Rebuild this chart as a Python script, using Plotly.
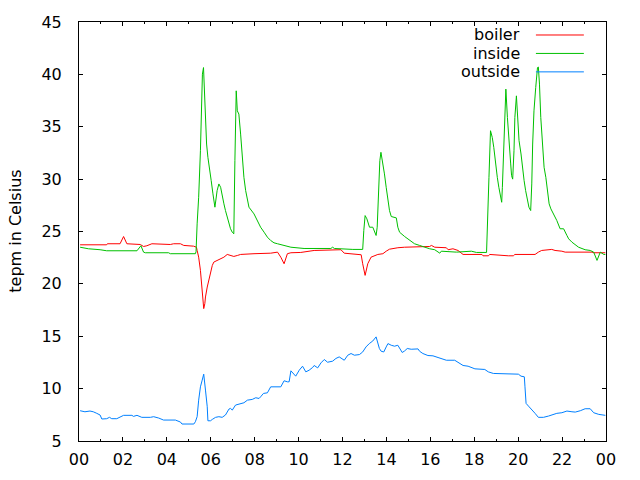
import plotly.graph_objects as go

# ---- data (hours of day, temperature in Celsius) ----
boiler_h = [0.05, 1.26, 1.29, 1.87, 2.03, 2.18, 2.79, 2.94, 3.09, 3.32, 4.16, 4.31, 4.62, 4.77, 5.22,
            5.35, 5.38, 5.45, 5.53, 5.61, 5.65, 5.68, 5.73, 5.76, 5.84, 5.91, 5.99, 6.07, 6.14, 6.29,
            6.45, 6.60, 6.75, 6.90, 7.05, 7.21, 7.36, 7.97, 8.73, 9.04, 9.19, 9.34, 9.49, 9.65, 10.1,
            10.71, 11.02, 11.47, 11.78, 11.93, 12.08, 12.85, 12.92, 13.03, 13.15, 13.3, 13.61, 13.84,
            13.99, 14.14, 14.52, 14.83, 15.97, 16.05, 16.2, 16.73, 16.81, 17.03, 17.26, 17.49, 18.35,
            18.4, 18.65, 18.7, 19.55, 19.78, 19.85, 20.77, 20.92, 21.07, 21.53, 21.68, 21.99, 22.14,
            23.36, 23.44, 23.97]
boiler_t = [23.73, 23.73, 23.83, 23.83, 24.52, 23.83, 23.76, 23.57, 23.64, 23.83, 23.76, 23.83, 23.83,
            23.67, 23.6, 23.5, 23.19, 22.55, 21.29, 19.38, 18.11, 17.64, 18.11, 18.75, 19.7, 20.33,
            21.29, 21.76, 22.08, 22.24, 22.4, 22.55, 22.81, 22.71, 22.62, 22.71, 22.81, 22.88, 22.93,
            23.03, 22.55, 21.92, 22.88, 22.97, 23.0, 23.19, 23.19, 23.26, 23.19, 23.26, 22.93, 22.78,
            21.92, 20.81, 21.92, 22.55, 22.81, 22.88, 23.12, 23.31, 23.45, 23.5, 23.57, 23.67, 23.5,
            23.45, 23.26, 23.35, 23.19, 22.81, 22.81, 22.68, 22.68, 22.81, 22.68, 22.68, 22.81, 22.81,
            23.03, 23.19, 23.29, 23.19, 23.12, 23.03, 23.03, 22.97, 22.97]

inside_h = [0.05, 0.43, 0.96, 1.26, 2.64, 2.71, 2.82, 2.94, 3.02, 4.08, 4.16, 5.30, 5.33, 5.38, 5.45,
            5.53, 5.58, 5.62, 5.67, 5.75, 5.81, 5.87, 5.94, 6.02, 6.10, 6.19, 6.29, 6.37, 6.45, 6.52,
            6.60, 6.67, 6.75, 6.83, 6.90, 6.98, 7.05, 7.10, 7.16, 7.21, 7.28, 7.36, 7.44, 7.51, 7.59,
            7.67, 7.74, 7.97, 8.12, 8.27, 8.43, 8.58, 8.73, 8.88, 9.04, 9.34, 9.65, 10.25, 11.47,
            11.55, 11.63, 12.47, 12.92, 12.97, 13.03, 13.11, 13.15, 13.23, 13.38, 13.45, 13.53, 13.58,
            13.64, 13.70, 13.75, 13.79, 13.84, 13.91, 13.99, 14.07, 14.14, 14.22, 14.45, 14.52, 14.60,
            14.83, 15.05, 15.28, 15.51, 15.74, 15.97, 16.2, 16.35, 16.43, 16.5, 17.19, 17.87, 18.1,
            18.56, 18.61, 18.67, 18.74, 18.82, 18.89, 18.97, 19.05, 19.12, 19.2, 19.25, 19.28, 19.32,
            19.4, 19.44, 19.51, 19.58, 19.66, 19.7, 19.75, 19.81, 19.85, 19.92, 19.98, 20.04, 20.13,
            20.19, 20.27, 20.34, 20.42, 20.49, 20.57, 20.62, 20.66, 20.72, 20.8, 20.88, 20.92, 20.97,
            21.03, 21.11, 21.18, 21.26, 21.33, 21.41, 21.49, 21.61, 21.76, 21.91, 22.07, 22.22, 22.3,
            22.45, 22.6, 22.75, 23.05, 23.28, 23.44, 23.59, 23.74, 23.9, 23.97]
inside_t = [23.5, 23.35, 23.26, 23.16, 23.16, 23.35, 23.64, 23.03, 22.97, 22.97, 22.88, 22.88, 23.07,
            25.73, 28.27, 32.71, 37.79, 40.02, 40.65, 35.57, 33.35, 32.08, 30.81, 29.86, 28.59, 27.32,
            28.9, 29.54, 29.22, 28.27, 27.64, 27.0, 26.36, 25.73, 25.26, 24.93, 24.78, 31.76, 38.43,
            36.52, 36.21, 34.3, 31.76, 30.17, 28.9, 27.95, 27.32, 26.68, 26.05, 25.41, 24.93, 24.46,
            24.14, 23.92, 23.83, 23.67, 23.5, 23.38, 23.38, 23.5, 23.38, 23.29, 23.29, 25.1, 26.52,
            26.21, 25.89, 25.41, 25.41, 25.1, 24.62, 25.41, 29.22, 31.76, 32.56, 32.08, 31.45, 30.5,
            29.22, 27.95, 27.0, 26.43, 26.3, 25.41, 24.93, 24.52, 24.14, 23.83, 23.67, 23.5, 23.35,
            23.26, 23.03, 22.93, 23.12, 23.03, 23.12, 23.0, 23.0, 27.32, 30.17, 34.62, 33.98, 33.03,
            31.45, 30.17, 29.22, 28.27, 27.79, 29.22, 32.08, 36.52, 38.59, 35.89, 33.35, 31.45, 30.33,
            30.0, 32.71, 35.89, 37.95, 35.89, 33.67, 32.4, 31.13, 29.86, 28.9, 27.95, 27.32, 27.0,
            29.54, 33.35, 36.52, 38.75, 40.65, 40.7, 39.07, 35.89, 32.71, 31.13, 30.17, 28.9, 27.64,
            27.16, 26.68, 26.05, 25.26, 25.26, 24.62, 24.3, 23.98, 23.76, 23.5, 23.26, 23.19, 23.03,
            22.24, 23.03, 22.81, 22.81]

outside_h = [0.05, 0.27, 0.5, 0.65, 0.81, 0.96, 1.04, 1.26, 1.39, 1.49, 1.72, 1.87, 2.03, 2.41, 2.48,
             2.64, 2.86, 3.25, 3.4, 3.63, 3.85, 4.39, 4.62, 4.69, 5.23, 5.3, 5.38, 5.45, 5.53, 5.61,
             5.68, 5.76, 5.84, 5.87, 5.99, 6.07, 6.22, 6.37, 6.52, 6.67, 6.83, 6.9, 6.98, 7.13, 7.36,
             7.51, 7.67, 7.89, 8.05, 8.2, 8.27, 8.4, 8.58, 8.65, 8.73, 9.19, 9.34, 9.49, 9.57, 9.65,
             9.77, 9.87, 10.03, 10.18, 10.33, 10.48, 10.64, 10.71, 10.87, 11.02, 11.17, 11.32, 11.55,
             11.7, 11.85, 12.08, 12.24, 12.39, 12.54, 12.77, 12.92, 13.07, 13.22, 13.38, 13.53, 13.61,
             13.68, 13.76, 13.88, 13.99, 14.07, 14.22, 14.37, 14.52, 14.6, 14.72, 14.83, 14.95, 15.13,
             15.44, 15.51, 15.66, 15.89, 16.12, 16.35, 16.5, 16.73, 17.11, 17.34, 17.49, 17.72, 18.03,
             18.48, 18.64, 18.87, 19.32, 19.4, 20.01, 20.13, 20.28, 20.31, 20.36, 20.47, 20.62, 20.77,
             20.92, 21.15, 21.38, 21.53, 21.76, 21.99, 22.22, 22.45, 22.6, 22.83, 23.05, 23.28, 23.44,
             23.67, 23.9, 23.97]
outside_t = [7.89, 7.79, 7.86, 7.79, 7.64, 7.48, 7.1, 7.13, 7.26, 7.13, 7.13, 7.32, 7.45, 7.45, 7.35,
             7.45, 7.26, 7.26, 7.32, 7.19, 7.0, 7.0, 6.81, 6.62, 6.62, 6.84, 7.32, 8.9, 10.17, 10.81,
             11.38, 9.86, 8.27, 6.93, 6.93, 7.06, 7.26, 7.32, 7.26, 7.48, 8.05, 8.11, 7.95, 8.43, 8.52,
             8.65, 8.9, 8.97, 9.13, 9.06, 9.22, 9.54, 9.6, 9.92, 10.17, 10.17, 10.75, 10.65, 10.65,
             11.7, 11.45, 11.19, 11.76, 12.14, 11.6, 11.76, 12.02, 12.21, 11.98, 12.46, 12.78, 12.52,
             12.62, 12.88, 13.03, 12.71, 13.19, 13.35, 13.19, 13.25, 13.5, 13.98, 14.3, 14.55, 14.94,
             14.46, 13.83, 13.57, 13.5, 13.98, 14.3, 14.14, 14.05, 14.14, 13.83, 13.45, 13.6, 13.83,
             13.76, 13.79, 13.57, 13.35, 13.16, 13.13, 12.97, 12.88, 12.71, 12.71, 12.4, 12.21, 12.14,
             11.89, 11.83, 11.6, 11.45, 11.45, 11.38, 11.38, 11.19, 11.13, 10.17, 8.59, 8.33, 8.02,
             7.64, 7.26, 7.26, 7.38, 7.48, 7.64, 7.7, 7.86, 7.79, 7.76, 7.89, 8.08, 8.08, 7.7, 7.54,
             7.45, 7.45]

series_names = ["boiler", "inside", "outside"]
series_colors = ["#ff0000", "#00c000", "#0080ff"]

x_tickvals = [0, 2, 4, 6, 8, 10, 12, 14, 16, 18, 20, 22, 24]
x_ticktext = ["00", "02", "04", "06", "08", "10", "12", "14", "16", "18", "20", "22", "00"]
y_tickvals = [5, 10, 15, 20, 25, 30, 35, 40, 45]
y_title = "tepm in Celsius"

FONT = "DejaVu Sans"

fig = go.Figure()
for name, color, xs, ys in zip(series_names, series_colors,
                               [boiler_h, inside_h, outside_h],
                               [boiler_t, inside_t, outside_t]):
    fig.add_trace(go.Scatter(x=xs, y=ys, mode="lines", name=name,
                             line=dict(color=color, width=1), showlegend=False))

# legend drawn gnuplot-style: right-aligned text with line sample to the right
legend_rows = [0.969, 0.925, 0.881]
for name, color, yy in zip(series_names, series_colors, legend_rows):
    fig.add_annotation(x=0.840, y=yy, xref="paper", yref="paper", text=name,
                       showarrow=False, xanchor="right", yanchor="middle",
                       font=dict(family=FONT, size=16, color="#000000"))
    fig.add_shape(type="line", xref="paper", yref="paper", x0=0.867, x1=0.958,
                  y0=yy, y1=yy, line=dict(color=color, width=1))

# y-axis title as a rotated annotation (exact placement)
fig.add_annotation(x=-0.121, y=0.5, xref="paper", yref="paper", text=y_title,
                   showarrow=False, textangle=-90, xanchor="center", yanchor="middle",
                   font=dict(family=FONT, size=16, color="#000000"))

axis_common = dict(showline=True, linecolor="#000000", linewidth=1, mirror="ticks",
                   ticks="inside", tickcolor="#000000", tickwidth=1, ticklen=4,
                   showgrid=False, zeroline=False,
                   tickfont=dict(family=FONT, size=16, color="#000000"))

fig.update_xaxes(range=[0, 24], tickmode="array", tickvals=x_tickvals, ticktext=x_ticktext,
                 minor=dict(dtick=1, tick0=0, ticks="inside", ticklen=2, tickcolor="#000000",
                            showgrid=False),
                 ticklabelstandoff=4, **axis_common)
fig.update_yaxes(range=[5, 45], tickmode="array", tickvals=y_tickvals,
                 ticklabelstandoff=13, **axis_common)

# the page body has an 8px margin, so the figure is shrunk by 8px and margins adjusted
fig.update_layout(width=632, height=472,
                  margin=dict(l=71, r=34, t=14, b=39, autoexpand=False),
                  paper_bgcolor="#ffffff", plot_bgcolor="#ffffff",
                  font=dict(family=FONT, size=16, color="#000000"))

fig.write_html("out.html")
